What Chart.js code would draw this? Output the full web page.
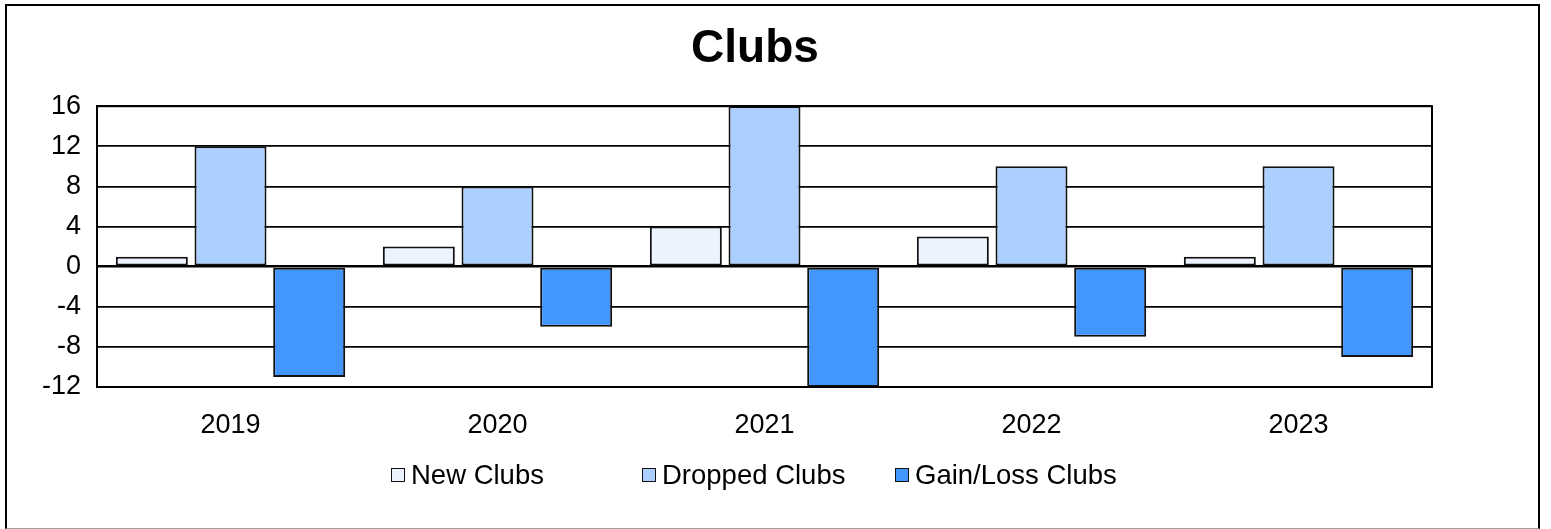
<!DOCTYPE html>
<html>
<head>
<meta charset="utf-8">
<title>Clubs</title>
<script src="https://cdn.jsdelivr.net/npm/chart.js@4.4.0/dist/chart.umd.min.js"></script>
<style>
  html, body { margin: 0; padding: 0; background: #fff; }
  #wrap { position: relative; width: 1551px; height: 529px; overflow: hidden; font-family: "Liberation Sans", Arial, sans-serif; }
  #frame { position: absolute; left: 5px; top: 4px; width: 1531px; height: 522px; border: 2px solid #000; border-bottom: 1px solid #a0a0a0; }
  #chart { position: absolute; left: 0; top: 0; }
  .lg-item { position: absolute; top: 459px; display: flex; align-items: center; font-size: 27.5px; color: #000; white-space: nowrap; }
  .lg-box { width: 12px; height: 12px; border: 1.5px solid #111; margin-right: 6px; }
</style>
</head>
<body>
<div id="wrap">
  <div id="frame"></div>
  <canvas id="chart" width="1551" height="529"></canvas>
  <div id="legend"></div>
</div>
<script>
// ── Data ─────────────────────────────────────────────────────────────────────
const years       = ['2019', '2020', '2021', '2022', '2023'];
const newClubs    = [1, 2, 4, 3, 1];
const dropped     = [12, 8, 16, 10, 10];
const gainLoss    = [-11, -6, -12, -7, -9];
const seriesNames = ['New Clubs', 'Dropped Clubs', 'Gain/Loss Clubs'];
const yTicks      = [-12, -8, -4, 0, 4, 8, 12, 16];

const COLORS = ['#ebf3ff', '#abcfff', '#4496ff'];
const FONT = '"Liberation Sans", Arial, sans-serif';

// ── Plot frame (right/top edge of the plot area) ─────────────────────────────
const frame = {
  id: 'frame',
  afterDatasetsDraw(chart) {
    const { ctx, chartArea: a } = chart;
    ctx.save();
    ctx.strokeStyle = '#000';
    ctx.lineWidth = 2;
    ctx.strokeRect(a.left, a.top, a.right - a.left, a.bottom - a.top);
    ctx.restore();
  }
};

const series = [newClubs, dropped, gainLoss];

new Chart(document.getElementById('chart'), {
  type: 'bar',
  data: {
    labels: years,
    datasets: series.map((d, i) => ({
      label: seriesNames[i],
      data: d,
      backgroundColor: COLORS[i],
      borderColor: '#111',
      borderWidth: 2,
      borderSkipped: false,
      categoryPercentage: 0.884,
      barPercentage: 0.915,
    }))
  },
  options: {
    responsive: false,
    animation: false,
    layout: { padding: { left: 0, right: 41, top: 0, bottom: 92 } },
    plugins: {
      legend: { display: false },
      tooltip: { enabled: false },
      title: {
        display: true,
        text: 'Clubs',
        color: '#000',
        font: { family: FONT, size: 46, weight: 'bold', lineHeight: 1.2 },
        padding: { top: 22, bottom: 29 }
      }
    },
    scales: {
      x: {
        grid: { display: false },
        border: { display: true, color: '#000', width: 2 },
        ticks: { color: '#000', padding: 14, font: { family: FONT, size: 27 } },
        afterFit: s => { s.height = 50; }
      },
      y: {
        min: yTicks[0],
        max: yTicks[yTicks.length - 1],
        afterBuildTicks: s => { s.ticks = yTicks.map(v => ({ value: v })); },
        grid: {
          color: '#000',
          lineWidth: c => (c.tick && c.tick.value === 0 ? 2.4 : 1.7),
          drawTicks: false
        },
        border: { display: true, color: '#000', width: 2 },
        ticks: { color: '#000', padding: 16, font: { family: FONT, size: 27 } },
        afterFit: s => { s.width = 97; }
      },
      // empty right-hand spacer so the title centres like the source
      pad: {
        position: 'right',
        grid: { display: false },
        border: { display: false },
        ticks: { display: false },
        afterFit: s => { s.width = 78; }
      }
    }
  },
  plugins: [frame]
});

// ── Legend (placed like the source, uneven gaps) ─────────────────────────────
const legendLeft = [391, 642, 895];
document.getElementById('legend').innerHTML = seriesNames.map((n, i) => `
  <div class="lg-item" style="left:${legendLeft[i]}px">
    <span class="lg-box" style="background:${COLORS[i]}"></span>${n}
  </div>`).join('');
</script>
</body>
</html>
